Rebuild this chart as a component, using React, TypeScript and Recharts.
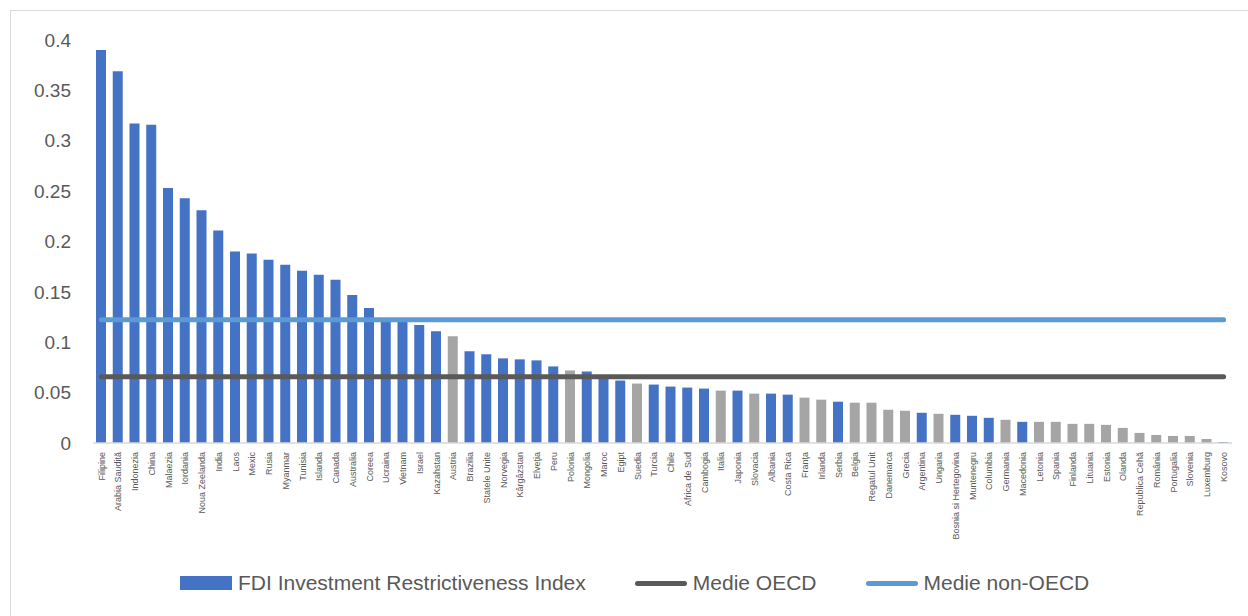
import { Bar, Cell, ComposedChart, Line, XAxis, YAxis } from 'recharts'

const countries = [
  'Filipine', 'Arabia Saudită', 'Indonezia', 'China', 'Malaezia', 'Iordania', 'Noua Zeelanda', 'India',
  'Laos', 'Mexic', 'Rusia', 'Myanmar', 'Tunisia', 'Islanda', 'Canada', 'Australia', 'Coreea', 'Ucraina',
  'Vietnam', 'Israel', 'Kazahstan', 'Austria', 'Brazilia', 'Statele Unite', 'Norvegia', 'Kârgâzstan',
  'Elveţia', 'Peru', 'Polonia', 'Mongolia', 'Maroc', 'Egipt', 'Suedia', 'Turcia', 'Chile', 'Africa de Sud',
  'Cambogia', 'Italia', 'Japonia', 'Slovacia', 'Albania', 'Costa Rica', 'Franţa', 'Irlanda', 'Serbia',
  'Belgia', 'Regatul Unit', 'Danemarca', 'Grecia', 'Argentina', 'Ungaria', 'Bosnia si Hertegovina',
  'Muntenegru', 'Columbia', 'Germania', 'Macedonia', 'Letonia', 'Spania', 'Finlanda', 'Lituania', 'Estonia',
  'Olanda', 'Republica Cehă', 'România', 'Portugalia', 'Slovenia', 'Luxemburg', 'Kosovo',
]

const fdiIndex = [
  0.39, 0.369, 0.317, 0.316, 0.253, 0.243, 0.231, 0.211,
  0.19, 0.188, 0.182, 0.177, 0.171, 0.167, 0.162, 0.147, 0.134, 0.121,
  0.12, 0.117, 0.111, 0.106, 0.091, 0.088, 0.084, 0.083,
  0.082, 0.076, 0.072, 0.071, 0.066, 0.062, 0.059, 0.058, 0.056, 0.055,
  0.054, 0.052, 0.052, 0.049, 0.049, 0.048, 0.045, 0.043, 0.041,
  0.04, 0.04, 0.033, 0.032, 0.03, 0.029, 0.028,
  0.027, 0.025, 0.023, 0.021, 0.021, 0.021, 0.019, 0.019, 0.018,
  0.015, 0.01, 0.008, 0.007, 0.007, 0.004, 0.001,
]

// bars drawn in grey in the original
const greyCountries = [
  'Austria', 'Polonia', 'Suedia', 'Italia', 'Slovacia', 'Franţa', 'Irlanda', 'Belgia', 'Regatul Unit',
  'Danemarca', 'Grecia', 'Ungaria', 'Germania', 'Letonia', 'Spania', 'Finlanda', 'Lituania', 'Estonia',
  'Olanda', 'Republica Cehă', 'România', 'Portugalia', 'Slovenia', 'Luxemburg',
]

const oecdAverage = 0.0658
const nonOecdAverage = 0.1224

const yTicks = [0, 0.05, 0.1, 0.15, 0.2, 0.25, 0.3, 0.35, 0.4]

const BLUE = '#4472C4'
const GREY = '#A5A5A5'
const DARK = '#595959'
const LIGHT_BLUE = '#5B9BD5'
const FONT = '"Liberation Sans", Arial, sans-serif'

const chartData = countries.map((name, i) => ({
  name,
  fdi: fdiIndex[i],
  oecd: oecdAverage,
  nonOecd: nonOecdAverage,
}))

function CountryTick({ x, y, payload }: { x?: number; y?: number; payload?: { value: string } }) {
  const ty = (y ?? 0) + 9
  return (
    <text
      x={x}
      y={ty}
      transform={`rotate(-90, ${x}, ${ty})`}
      textAnchor="end"
      dy="0.35em"
      fontSize={9}
      fontFamily={FONT}
      fill={DARK}
    >
      {payload?.value}
    </text>
  )
}

function LegendRow() {
  const item = { display: 'flex', alignItems: 'center', marginRight: 49 }
  const label = { marginLeft: 6, whiteSpace: 'nowrap' as const }
  return (
    <div
      style={{
        position: 'absolute',
        left: 180,
        top: 571,
        display: 'flex',
        fontFamily: FONT,
        fontSize: 21,
        color: DARK,
      }}
    >
      <div style={item}>
        <span style={{ width: 52, height: 14, background: BLUE, display: 'inline-block' }} />
        <span style={label}>FDI Investment Restrictiveness Index</span>
      </div>
      <div style={item}>
        <span style={{ width: 52, height: 5, borderRadius: 3, background: DARK, display: 'inline-block' }} />
        <span style={label}>Medie OECD</span>
      </div>
      <div style={item}>
        <span style={{ width: 52, height: 5, borderRadius: 3, background: LIGHT_BLUE, display: 'inline-block' }} />
        <span style={label}>Medie non-OECD</span>
      </div>
    </div>
  )
}

export default function App() {
  return (
    <div
      style={{
        position: 'absolute',
        left: 0,
        top: 0,
        width: 1248,
        height: 616,
        overflow: 'hidden',
        background: '#fff',
      }}
    >
      <div
        style={{
          position: 'absolute',
          left: 10,
          top: 10,
          width: 1240,
          height: 610,
          borderLeft: '1px solid #D9D9D9',
          borderTop: '1px solid #D9D9D9',
        }}
      />
      <ComposedChart
        width={1248}
        height={616}
        data={chartData}
        margin={{ top: 40, right: 16, left: 10, bottom: 0 }}
      >
        <XAxis
          dataKey="name"
          interval={0}
          height={173}
          tickLine={false}
          tickSize={0}
          tickMargin={0}
          axisLine={{ stroke: '#D9D9D9', strokeWidth: 1.5 }}
          tick={<CountryTick />}
        />
        <YAxis
          width={83}
          domain={[0, 0.4]}
          ticks={yTicks}
          axisLine={false}
          tickLine={false}
          tickSize={0}
          tickMargin={22}
          tick={{ fontSize: 19, fontFamily: FONT, fill: DARK }}
        />
        <Bar dataKey="fdi" barSize={10} isAnimationActive={false}>
          {chartData.map((d) => (
            <Cell key={d.name} fill={greyCountries.includes(d.name) ? GREY : BLUE} />
          ))}
        </Bar>
        <Line
          dataKey="oecd"
          stroke={DARK}
          strokeWidth={5}
          strokeLinecap="round"
          dot={false}
          activeDot={false}
          isAnimationActive={false}
        />
        <Line
          dataKey="nonOecd"
          stroke={LIGHT_BLUE}
          strokeWidth={5}
          strokeLinecap="round"
          dot={false}
          activeDot={false}
          isAnimationActive={false}
        />
      </ComposedChart>
      <LegendRow />
    </div>
  )
}
